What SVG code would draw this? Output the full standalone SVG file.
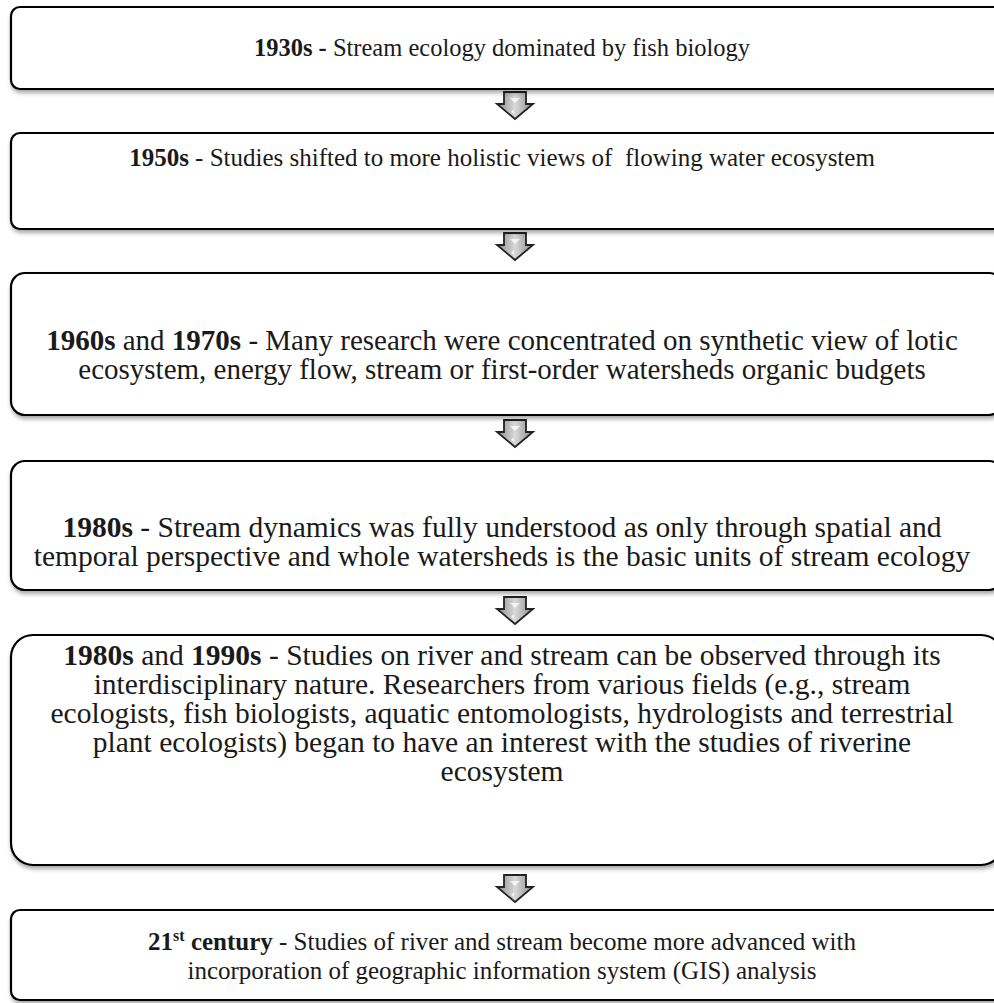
<svg xmlns="http://www.w3.org/2000/svg" width="994" height="1003" viewBox="0 0 994 1003">
<style>
.box{fill:#fff;stroke:#000;stroke-width:2.2;filter:url(#sh)}
.t{font-family:"Liberation Serif","Times New Roman",serif;fill:#1a1a1a;text-anchor:middle}
.s1{font-size:24.5px}
.s2{font-size:25px}
.s3{font-size:29px}
.s4{font-size:29.5px}
.s5{font-size:29.5px}
.s6{font-size:25px}
.b{font-weight:bold}
.arr{fill:url(#ag);stroke:#222;stroke-width:1.8;stroke-linejoin:miter}
.hl{fill:#fff;opacity:0.75}
</style>
<defs>
<filter id="sh" x="-5%" y="-10%" width="110%" height="130%">
<feGaussianBlur in="SourceAlpha" stdDeviation="2"/>
<feOffset dx="1" dy="3" result="o"/>
<feComponentTransfer><feFuncA type="linear" slope="0.35"/></feComponentTransfer>
<feMerge><feMergeNode/><feMergeNode in="SourceGraphic"/></feMerge>
</filter>
<linearGradient id="ag" x1="0" y1="0" x2="1" y2="0">
<stop offset="0" stop-color="#8a8a8a"/>
<stop offset="0.5" stop-color="#d9d9d9"/>
<stop offset="1" stop-color="#8a8a8a"/>
</linearGradient>
<g id="arrowshape">
<path class="arr" d="M-11,0 H11 V12 H18 L0,27 L-18,12 H-11 Z"/>
<path class="hl" d="M-5,6 H5 L0,11 Z"/>
<path class="hl" d="M-1,17 L-4,20 L-1,22 Z"/>
</g>
</defs>
<g id="connectors">
<use href="#arrowshape" x="515" y="92"/>
<use href="#arrowshape" x="515" y="233"/>
<use href="#arrowshape" x="515" y="420"/>
<use href="#arrowshape" x="515" y="597"/>
<use href="#arrowshape" x="515" y="875"/>
</g>
<g id="n1">
<rect class="box" x="11" y="7" width="992" height="82" rx="9"/>
<text class="t s1" x="502" y="56"><tspan class="b">1930s -</tspan> Stream ecology dominated by fish biology</text>
</g>
<g id="n2">
<rect class="box" x="11" y="133" width="992" height="96" rx="9"/>
<text class="t s2" x="502" y="166" xml:space="preserve"><tspan class="b">1950s</tspan> - Studies shifted to more holistic views of  flowing water ecosystem</text>
</g>
<g id="n3">
<rect class="box" x="11" y="273" width="992" height="142" rx="14"/>
<text class="t s3" x="502" y="350"><tspan class="b">1960s</tspan> and <tspan class="b">1970s</tspan> - Many research were concentrated on synthetic view of lotic</text>
<text class="t s3" x="502" y="379">ecosystem, energy flow, stream or first-order watersheds organic budgets</text>
</g>
<g id="n4">
<rect class="box" x="11" y="461" width="992" height="129" rx="14"/>
<text class="t s4" x="502" y="537"><tspan class="b">1980s</tspan> - Stream dynamics was fully understood as only through spatial and</text>
<text class="t s4" x="502" y="566">temporal perspective and whole watersheds is the basic units of stream ecology</text>
</g>
<g id="n5">
<rect class="box" x="11" y="635" width="992" height="230" rx="22"/>
<text class="t s5" x="502" y="665"><tspan class="b">1980s</tspan> and <tspan class="b">1990s</tspan> - Studies on river and stream can be observed through its</text>
<text class="t s5" x="502" y="694">interdisciplinary nature. Researchers from various fields (e.g., stream</text>
<text class="t s5" x="502" y="723">ecologists, fish biologists, aquatic entomologists, hydrologists and terrestrial</text>
<text class="t s5" x="502" y="752">plant ecologists) began to have an interest with the studies of riverine</text>
<text class="t s5" x="502" y="781">ecosystem</text>
</g>
<g id="n6">
<rect class="box" x="11" y="910" width="992" height="90" rx="9"/>
<text class="t s6" x="502" y="950"><tspan class="b">21<tspan font-size="16" dy="-9">st</tspan><tspan dy="9"> century</tspan></tspan> - Studies of river and stream become more advanced with</text>
<text class="t s6" x="502" y="979">incorporation of geographic information system (GIS) analysis</text>
</g>
</svg>
